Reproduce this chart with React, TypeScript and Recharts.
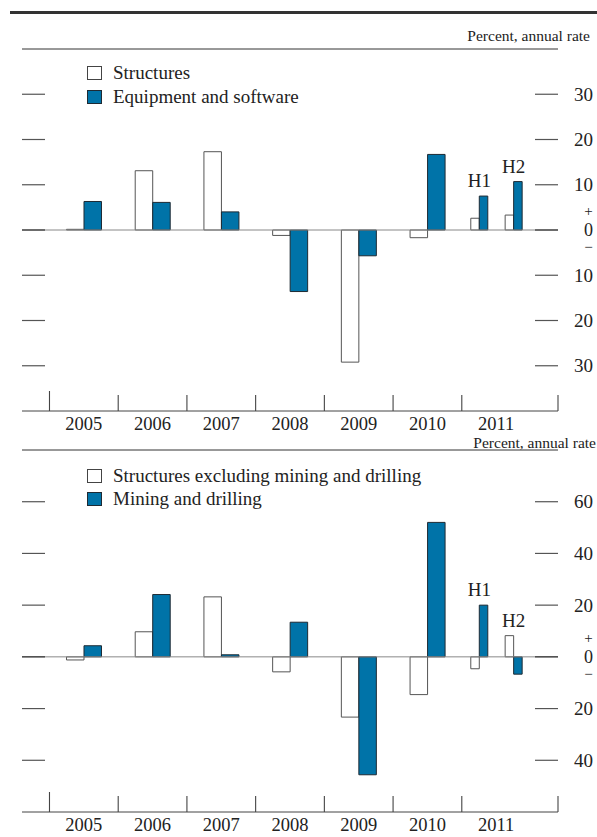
import React from 'react';
import { BarChart, Bar, XAxis, YAxis, ReferenceLine, Legend, LabelList } from 'recharts';

const FONT = '"Liberation Serif", "DejaVu Serif", serif';
const BLUE = '#0073A8';
const INK = '#222';
const TICK = '#555';

// x positions: annual bars sit on the year, the 2011 halves sit either side of it
const years = [2005, 2006, 2007, 2008, 2009, 2010];
const halfPos = [2010.75, 2011.25];
const halfNames = ['H1', 'H2'];
const yearTicks = [2005, 2006, 2007, 2008, 2009, 2010, 2011];
const gridTicks = [2004.1, 2004.5, 2005.5, 2006.5, 2007.5, 2008.5, 2009.5, 2010.5, 2011.5, 2011.9];
const xDomain: [number, number] = [2004.1, 2011.9];

// top panel
const structures = [0.15, 13.1, 17.3, -1.2, -29.2, -1.7];
const equipment = [6.3, 6.1, 4.0, -13.6, -5.7, 16.7];
const structuresHalf = [2.6, 3.3];
const equipmentHalf = [7.5, 10.7];
const topTicks = [-30, -20, -10, 0, 10, 20, 30];

// bottom panel
const structuresExMining = [-1.2, 9.7, 23.2, -5.8, -23.3, -14.6];
const mining = [4.3, 24.1, 0.8, 13.4, -45.6, 52];
const structuresExMiningHalf = [-4.6, 8.2];
const miningHalf = [20, -6.7];
const bottomTicks = [-40, -20, 0, 20, 40, 60];

type Row = { yr?: number; hx?: number; name?: string; a?: number; b?: number; ha?: number; hb?: number };

const buildRows = (a: number[], b: number[], ah: number[], bh: number[]): Row[] => [
  ...years.map((yr, i) => ({ yr, a: a[i], b: b[i] })),
  ...halfPos.map((hx, i) => ({ hx, name: halfNames[i], ha: ah[i], hb: bh[i] })),
];

// right axis: short inward tick plus the label outside
const RightTick = (props: any) => {
  const { x, y, payload } = props;
  const v = payload.value;
  const txt = { fontFamily: FONT, fill: INK };
  return (
    <g>
      <line x1={x - 23} x2={x} y1={y} y2={y} stroke={v === 0 ? '#333' : TICK} strokeWidth={1.2} />
      {v === 0 ? (
        <g>
          <text x={x + 30.5} y={y - 19} dy="0.35em" textAnchor="middle" fontSize={15} {...txt}>+</text>
          <text x={x + 30.5} y={y} dy="0.35em" textAnchor="middle" fontSize={18} {...txt}>0</text>
          <text x={x + 30.5} y={y + 17} dy="0.35em" textAnchor="middle" fontSize={15} {...txt}>−</text>
        </g>
      ) : (
        <text x={x + 35} y={y} dy="0.35em" textAnchor="end" fontSize={19} {...txt}>{Math.abs(v)}</text>
      )}
    </g>
  );
};

// left axis: inward tick only
const LeftTick = (props: any) => {
  const { x, y, payload } = props;
  return <line x1={x} x2={x + 23} y1={y} y2={y} stroke={payload.value === 0 ? '#333' : TICK} strokeWidth={1.2} />;
};

// year dividers standing on the base line, the frame edges a bit taller
const DividerTick = (props: any) => {
  const { x, y, index } = props;
  const edge = index === 0 || index === gridTicks.length - 1;
  return <line x1={x} x2={x} y1={y} y2={y - (edge ? 20 : 16)} stroke="#444" strokeWidth={1.1} />;
};

const halfLabel = (rows: Row[], side: 'ha' | 'hb') => (props: any) => {
  const { value, viewBox } = props;
  if (!value || !viewBox) return null;
  const row = rows.find((r) => r.name === value);
  if (!row) return null;
  const mine = side === 'ha' ? row.ha! : row.hb!;
  const other = side === 'ha' ? row.hb! : row.ha!;
  if (side === 'ha' ? !(mine > other) : !(mine >= other)) return null;
  const cx = side === 'ha' ? viewBox.x + viewBox.width : viewBox.x;
  return (
    <text x={cx} y={viewBox.y - 9} textAnchor="middle" fontSize={19} fontFamily={FONT} fill={INK}>
      {value}
    </text>
  );
};

const legendContent = (names: string[], gap: number) => () => (
  <div style={{ fontFamily: FONT, fontSize: 19, color: INK }}>
    {names.map((n, i) => (
      <div key={n} style={{ display: 'flex', alignItems: 'center', height: gap, whiteSpace: 'nowrap' }}>
        <span
          style={{
            display: 'inline-block',
            width: 13,
            height: 12,
            border: `1px solid ${i === 0 ? '#444' : '#1e2a33'}`,
            background: i === 0 ? '#fff' : BLUE,
            marginRight: 11,
          }}
        />
        {n}
      </div>
    ))}
  </div>
);

type PanelProps = {
  rows: Row[];
  names: string[];
  domain: [number, number];
  ticks: number[];
  height: number;
  marginTop: number;
  legendTop: number;
  legendGap: number;
};

const Panel = ({ rows, names, domain, ticks, height, marginTop, legendTop, legendGap }: PanelProps) => (
  <BarChart
    width={597}
    height={height}
    data={rows}
    margin={{ top: marginTop, right: 0, left: 22, bottom: 0 }}
    barGap={0}
  >
    <XAxis
      xAxisId="yr"
      dataKey="yr"
      type="number"
      domain={xDomain}
      ticks={yearTicks}
      tickLine={false}
      axisLine={false}
      tickSize={0}
      tickMargin={6}
      height={30}
      tick={{ fontFamily: FONT, fontSize: 18.5, fill: INK }}
    />
    <XAxis
      xAxisId="hx"
      dataKey="hx"
      type="number"
      domain={xDomain}
      ticks={gridTicks}
      mirror
      tickSize={0}
      tickMargin={0}
      tickLine={false}
      tick={<DividerTick />}
      axisLine={{ stroke: '#444' }}
    />
    <YAxis
      yAxisId="v"
      type="number"
      domain={domain}
      ticks={ticks}
      mirror
      tickSize={0}
      tickMargin={0}
      tickLine={false}
      tick={<LeftTick />}
      axisLine={false}
    />
    <YAxis
      yAxisId="r"
      orientation="right"
      type="number"
      domain={domain}
      allowDataOverflow
      ticks={ticks}
      width={39}
      tickSize={0}
      tickMargin={0}
      tickLine={false}
      axisLine={false}
      tick={<RightTick />}
    />
    <ReferenceLine yAxisId="v" xAxisId="yr" y={domain[1]} stroke="#333" />
    <ReferenceLine yAxisId="v" xAxisId="yr" y={0} stroke="#888" />
    <Legend
      layout="vertical"
      align="center"
      verticalAlign="middle"
      content={legendContent(names, legendGap)}
      wrapperStyle={{ position: 'absolute', top: legendTop, left: 87, width: 'auto', height: 'auto' }}
    />
    <Bar xAxisId="yr" yAxisId="v" dataKey="a" barSize={17.5} fill="#fff" stroke="#555" isAnimationActive={false} />
    <Bar xAxisId="yr" yAxisId="v" dataKey="b" barSize={17.5} fill={BLUE} stroke="#1e2a33" isAnimationActive={false} />
    <Bar xAxisId="hx" yAxisId="v" dataKey="ha" barSize={8.5} fill="#fff" stroke="#555" isAnimationActive={false}>
      <LabelList dataKey="name" content={halfLabel(rows, 'ha')} />
    </Bar>
    <Bar xAxisId="hx" yAxisId="v" dataKey="hb" barSize={8.5} fill={BLUE} stroke="#1e2a33" isAnimationActive={false}>
      <LabelList dataKey="name" content={halfLabel(rows, 'hb')} />
    </Bar>
  </BarChart>
);

const unitStyle: React.CSSProperties = {
  position: 'absolute',
  fontFamily: FONT,
  fontSize: 15.5,
  lineHeight: '13px',
  color: INK,
  whiteSpace: 'nowrap',
};

export default function App() {
  const topRows = buildRows(structures, equipment, structuresHalf, equipmentHalf);
  const bottomRows = buildRows(structuresExMining, mining, structuresExMiningHalf, miningHalf);
  return (
    <div style={{ position: 'absolute', left: 0, top: 0, width: 597, height: 837, background: '#fff' }}>
      <div style={{ position: 'absolute', left: 10, top: 11, width: 587, height: 3, background: '#333' }} />
      <div style={{ ...unitStyle, right: 7, top: 29 }}>Percent, annual rate</div>
      <div style={{ position: 'absolute', left: 0, top: 0 }}>
        <Panel
          rows={topRows}
          names={['Structures', 'Equipment and software']}
          domain={[-40, 40]}
          ticks={topTicks}
          height={441}
          marginTop={49}
          legendTop={61}
          legendGap={24}
        />
      </div>
      <div style={{ position: 'absolute', left: 0, top: 430 }}>
        <Panel
          rows={bottomRows}
          names={['Structures excluding mining and drilling', 'Mining and drilling']}
          domain={[-60, 80]}
          ticks={bottomTicks}
          height={412}
          marginTop={20}
          legendTop={34}
          legendGap={23}
        />
      </div>
      <div style={{ ...unitStyle, right: 1, top: 436 }}>Percent, annual rate</div>
    </div>
  );
}
